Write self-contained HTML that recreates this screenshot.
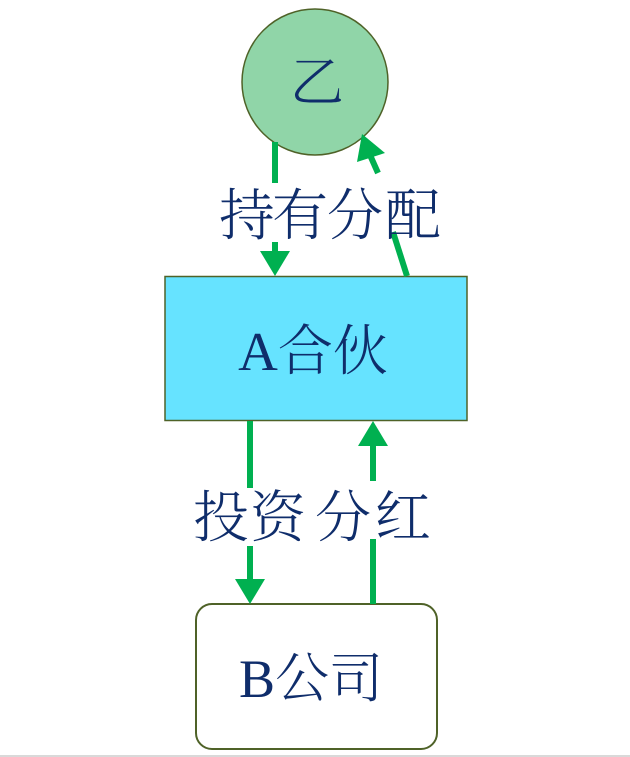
<!DOCTYPE html>
<html>
<head>
<meta charset="utf-8">
<style>
  html, body { margin:0; padding:0; background:#fff; }
  body { width:630px; height:757px; overflow:hidden; }
  svg { display:block; }
  .cjk { font-family: "Liberation Serif", "Noto Serif CJK SC", serif; fill:#0f2d6b; font-weight:300; }
</style>
</head>
<body>
<svg width="630" height="757" viewBox="0 0 630 757" xmlns="http://www.w3.org/2000/svg">
  <!-- circle 乙 -->
  <circle cx="315" cy="82" r="73" fill="#90d5a8" stroke="#4f6228" stroke-width="1.5"/>
  <text class="cjk" x="317" y="101" font-size="54" text-anchor="middle">乙</text>

  <!-- A合伙 rect -->
  <rect x="165" y="276.5" width="302" height="144" fill="#66e3ff" stroke="#4f6228" stroke-width="1.5"/>
  <text class="cjk" x="313" y="370" font-size="55" text-anchor="middle">A合伙</text>

  <!-- B公司 box -->
  <rect x="196" y="604" width="241" height="145" rx="16" ry="16" fill="#fff" stroke="#4f6228" stroke-width="2"/>
  <text class="cjk" x="311" y="697" font-size="54" text-anchor="middle">B公司</text>

  <!-- upper left arrow (down) -->
  <g stroke="#00b050" stroke-width="6" fill="none">
    <line x1="275" y1="142" x2="275" y2="183"/>
    <line x1="275" y1="242" x2="275" y2="254"/>
  </g>
  <polygon points="260,251 290,251 275,276" fill="#00b050"/>

  <!-- upper right arrow (diagonal up) -->
  <g stroke="#00b050" stroke-width="6" fill="none">
    <line x1="407" y1="276" x2="393" y2="232"/>
    <line x1="378" y1="173" x2="370" y2="155"/>
  </g>
  <polygon points="362,134 357,162 385,153" fill="#00b050"/>

  <!-- lower left arrow (down) -->
  <g stroke="#00b050" stroke-width="6" fill="none">
    <line x1="250" y1="421" x2="250" y2="488"/>
    <line x1="250" y1="546" x2="250" y2="582"/>
  </g>
  <polygon points="235,579 265,579 250,604" fill="#00b050"/>

  <!-- lower right arrow (up) -->
  <g stroke="#00b050" stroke-width="6" fill="none">
    <line x1="373" y1="604" x2="373" y2="539"/>
    <line x1="373" y1="481" x2="373" y2="443"/>
  </g>
  <polygon points="358,446 388,446 373,421" fill="#00b050"/>

  <!-- labels -->
  <g class="cjk" font-size="56">
    <text x="219" y="235">持</text>
    <text x="272" y="235">有</text>
    <text x="327" y="235">分</text>
    <text x="385" y="235">配</text>

    <text x="193" y="537">投</text>
    <text x="250" y="537">资</text>
    <text x="315" y="537">分</text>
    <text x="375" y="537">红</text>
  </g>

  <!-- bottom gray rule -->
  <rect x="0" y="755" width="630" height="2" fill="#d9d9d9"/>
</svg>
</body>
</html>
